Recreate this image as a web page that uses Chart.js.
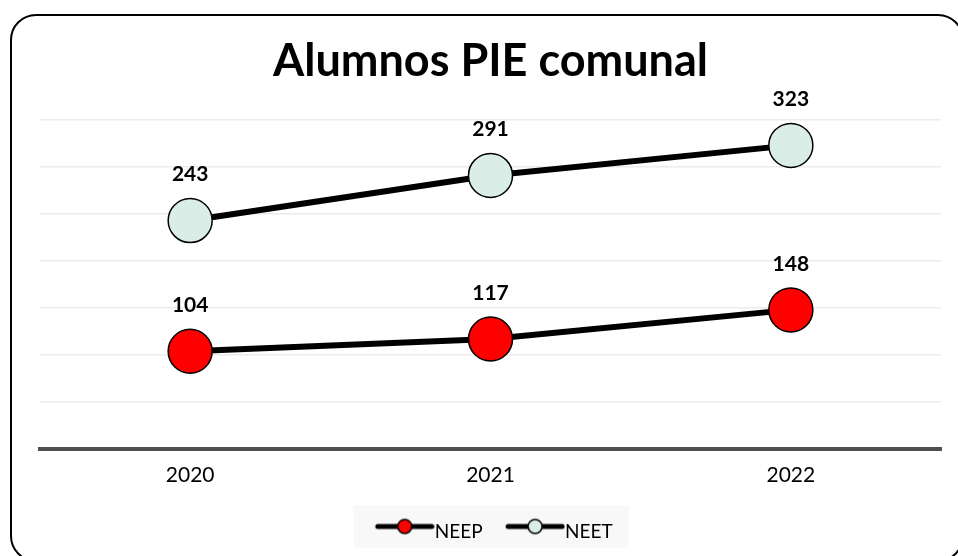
<!DOCTYPE html>
<html>
<head>
<meta charset="utf-8">
<script src="https://cdn.jsdelivr.net/npm/chart.js@4.4.0/dist/chart.umd.min.js"></script>
<style>
  html, body { margin: 0; padding: 0; background: #fff; }
  #wrap { position: relative; width: 958px; height: 556px; overflow: hidden; }
  #frame {
    position: absolute; left: 10px; top: 14px; width: 950px; height: 544px;
    border: 2px solid #000; border-radius: 26px; pointer-events: none;
  }
  canvas { position: absolute; left: 0; top: 0; }
</style>
</head>
<body>
<div id="wrap">
  <canvas id="pieChart" width="958" height="556"></canvas>
  <div id="frame"></div>
</div>
<script>
// data
const years = ['2020', '2021', '2022'];
const neep = [104, 117, 148];
const neet = [243, 291, 323];
const yTicks = [0, 50, 100, 150, 200, 250, 300, 350];

const FONT = 'Lato, "DejaVu Sans", sans-serif';

// legend marker: thick line with a circle on it
function makeMarker(fill) {
    const c = document.createElement('canvas');
    c.width = 76;
    c.height = 28;
    const g = c.getContext('2d');
    const cy = 9;
    g.lineCap = 'round';
    g.strokeStyle = '#000';
    g.lineWidth = 5;
    g.beginPath();
    g.moveTo(19, cy);
    g.lineTo(73, cy);
    g.stroke();
    g.beginPath();
    g.arc(46, cy, 7, 0, Math.PI * 2);
    g.fillStyle = fill;
    g.fill();
    g.lineWidth = 1.5;
    g.stroke();
    return c;
}

const valueLabels = {
    id: 'valueLabels',
    afterDatasetsDraw(chart) {
        const ctx = chart.ctx;
        ctx.save();
        ctx.font = 'bold 21px ' + FONT;
        ctx.fillStyle = '#000';
        ctx.textAlign = 'center';
        ctx.textBaseline = 'middle';
        chart.data.datasets.forEach((ds, i) => {
            chart.getDatasetMeta(i).data.forEach((pt, j) => {
                ctx.fillText(ds.data[j], pt.x, pt.y - 46);
            });
        });
        ctx.restore();
    }
};

const legendBg = {
    id: 'legendBg',
    beforeDraw(chart) {
        const boxes = chart.legend.legendHitBoxes;
        if (!boxes || !boxes.length) return;
        const first = boxes[0];
        const last = boxes[boxes.length - 1];
        const cy = first.top + first.height / 2;
        const x0 = first.left + 16 - 9.5 - 21;
        const x1 = last.left + last.width + 16;
        const ctx = chart.ctx;
        ctx.save();
        ctx.fillStyle = '#f8f8f8';
        ctx.fillRect(x0, cy - 26, x1 - x0, 42);
        ctx.restore();
    }
};

const ctx = document.getElementById('pieChart').getContext('2d');
new Chart(ctx, {
    type: 'line',
    data: {
        labels: years,
        datasets: [{
            label: 'NEEP',
            data: neep,
            borderColor: '#000',
            borderWidth: 6,
            pointRadius: 22,
            pointBackgroundColor: '#ff0000',
            pointBorderColor: '#000',
            pointBorderWidth: 1.5,
            marker: makeMarker('#ff0000')
        }, {
            label: 'NEET',
            data: neet,
            borderColor: '#000',
            borderWidth: 6,
            pointRadius: 22,
            pointBackgroundColor: '#daeee7',
            pointBorderColor: '#000',
            pointBorderWidth: 1.5,
            marker: makeMarker('#daeee7')
        }]
    },
    options: {
        responsive: false,
        animation: false,
        layout: { autoPadding: false, padding: { left: 40, right: 17, top: 0, bottom: 5 } },
        plugins: {
            title: {
                display: true,
                text: 'Alumnos PIE comunal',
                color: '#000',
                font: { family: FONT, size: 45, weight: 'bold' },
                padding: { top: 34, bottom: 32 }
            },
            legend: {
                position: 'bottom',
                labels: {
                    usePointStyle: true,
                    pointStyleWidth: 57,
                    padding: 16,
                    color: '#000',
                    font: { family: FONT, size: 19 },
                    generateLabels(chart) {
                        return chart.data.datasets.map((ds, i) => ({
                            text: ds.label,
                            pointStyle: ds.marker,
                            fillStyle: ds.pointBackgroundColor,
                            strokeStyle: '#000',
                            lineWidth: 0,
                            fontColor: '#000',
                            hidden: false,
                            datasetIndex: i
                        }));
                    }
                }
            },
            tooltip: { enabled: false }
        },
        scales: {
            x: {
                offset: true,
                grid: { display: false, drawTicks: false },
                border: { display: true, color: '#505050', width: 4 },
                ticks: { color: '#000', padding: 14, font: { family: FONT, size: 21 } },
                afterFit(scale) { scale.height = 57; }
            },
            y: {
                min: 0,
                max: 350,
                afterBuildTicks(scale) { scale.ticks = yTicks.map(v => ({ value: v })); },
                ticks: { display: false },
                grid: { color: '#ececec', lineWidth: 1.5, drawTicks: false },
                border: { display: false },
                afterFit(scale) { scale.width = 0; }
            }
        }
    },
    plugins: [legendBg, valueLabels]
});
</script>
</body>
</html>
